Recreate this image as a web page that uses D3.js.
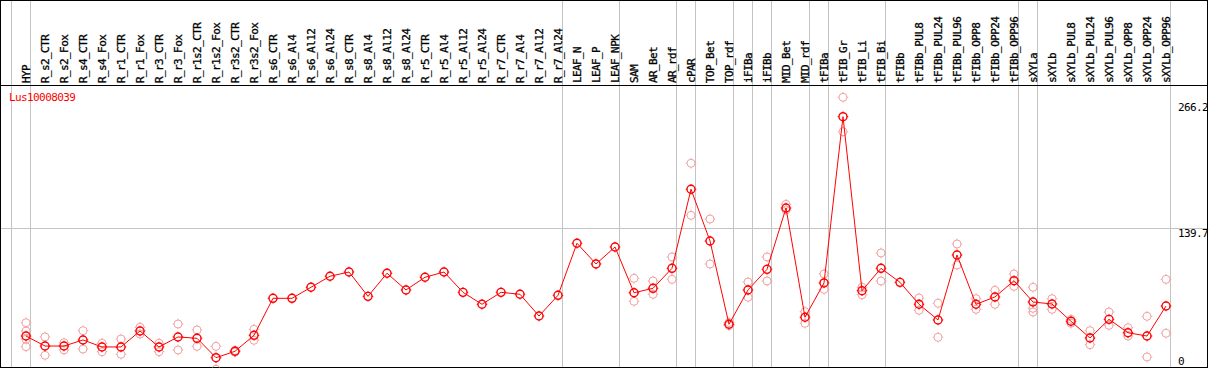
<!DOCTYPE html>
<html>
<head>
<meta charset="utf-8">
<script src="https://cdn.jsdelivr.net/npm/d3@7"></script>
<style>
  html, body { margin: 0; padding: 0; background: #fff; }
  svg { display: block; }
  text { font-family: "DejaVu Sans Mono", "Liberation Mono", monospace; font-size: 11px; letter-spacing: -0.6px; }
  text.lab { stroke: #000; stroke-width: 0.3px; }
</style>
</head>
<body>
<svg id="chart" width="1209" height="370"></svg>
<script>
const gene = "Lus10008039";

const categories = ["HYP","R_s2_CTR","R_s2_Fox","R_s4_CTR","R_s4_Fox","R_r1_CTR","R_r1_Fox","R_r3_CTR","R_r3_Fox",
  "R_r1s2_CTR","R_r1s2_Fox","R_r3s2_CTR","R_r3s2_Fox","R_s6_CTR","R_s6_Al4","R_s6_Al12","R_s6_Al24",
  "R_s8_CTR","R_s8_Al4","R_s8_Al12","R_s8_Al24","R_r5_CTR","R_r5_Al4","R_r5_Al12","R_r5_Al24",
  "R_r7_CTR","R_r7_Al4","R_r7_Al12","R_r7_Al24","LEAF_N","LEAF_P","LEAF_NPK","SAM","AR_Bet","AR_rdf",
  "cPAR","TOP_Bet","TOP_rdf","iFIBa","iFIBb","MID_Bet","MID_rdf","tFIBa","tFIB_Gr","tFIB_Li","tFIB_Bi",
  "tFIBb","tFIBb_PUL8","tFIBb_PUL24","tFIBb_PUL96","tFIBb_OPP8","tFIBb_OPP24","tFIBb_OPP96",
  "sXYLa","sXYLb","sXYLb_PUL8","sXYLb_PUL24","sXYLb_PUL96","sXYLb_OPP8","sXYLb_OPP24","sXYLb_OPP96"];

// mean expression per sample
const means = [34.6,24.9,24.9,30.8,24.0,24.0,39.5,24.0,33.7,
  32.4,13.6,19.8,35.3,71.2,71.2,81.9,92.6,
  96.7,73.1,95.5,79.3,91.6,96.7,77.0,65.4,
  77.0,75.1,54.0,74.1,124.6,104.5,121.0,76.6,80.9,100.3,
  177.0,126.8,46.0,79.3,99.3,158.8,52.8,86.1,247.4,78.6,100.3,
  86.7,65.4,50.2,113.2,65.4,72.5,88.3,
  67.6,65.7,48.9,32.7,50.8,37.8,34.6,63.7];

// individual replicate values per sample
const replicates = [[47.5,39.5,31.6,24.3],[33.7,15.9],[28.1,21.1],[39.8,22.0],[27.6,19.4],[31.7,16.9],[43.1,36.6],[27.6,19.4],[46.3,21.1],
  [40.5,24.6],[24.6,2.3],[19.1,20.6],[41.1,30.5],[],[],[],[],
  [],[],[],[],[],[],[],[],
  [],[],[],[],[],[],[],[90.6,68.3],[88.0,75.1],[111.3,89.6],
  [202.2,151.7],[148.1,104.5],[47.7,44.8],[87.0,72.2],[111.3,88.0],[162.4,156.9],[58.2,47.0],[94.8,79.9],[266.2,232.8],[81.9,74.7],[115.2,88.0],
  [],[71.5,59.6],[66.4,33.4],[123.9,103.5],[70.8,60.5],[79.0,65.4],[94.8,82.8],
  [81.9,61.5,57.9],[70.8,60.5],[50.8,47.0],[39.8,26.2],[57.9,45.0],[42.7,34.6],[53.7,14.3],[89.6,37.3]];

// indices after which a group separator is drawn (-1 = before first)
const groupEnds = [-1,0,28,31,34,35,37,38,39,41,42,45,52,53,60];

const yTicks = [0, 139.7, 266.2];
const gridValues = [139.7];

const W = 1209, H = 370;
const headerY = 85.5, bottomY = 367.5, rightX = 1207.5;

const svg = d3.select("#chart");
svg.append("rect").attr("width", W).attr("height", H).attr("fill", "#fff");

const x = d3.scalePoint().domain(categories).range([26, 26 + 19 * (categories.length - 1)]);
const step = x.step();
const y = d3.scaleLinear().domain([0, 266.2]).range([371.7, 97.3]);

svg.append("clipPath").attr("id", "plotclip")
  .append("rect").attr("x", 1).attr("y", headerY + 0.5).attr("width", rightX - 1).attr("height", bottomY - headerY - 0.5);

// group separators
svg.append("g").selectAll("line").data(groupEnds).join("line")
  .attr("x1", d => Math.round(x(categories[0]) + d * step) + 4.5)
  .attr("x2", d => Math.round(x(categories[0]) + d * step) + 4.5)
  .attr("y1", 0).attr("y2", bottomY)
  .attr("stroke", "#c4c4c4").attr("stroke-width", 1);

// horizontal grid
svg.append("g").selectAll("line").data(gridValues).join("line")
  .attr("x1", 1).attr("x2", rightX)
  .attr("y1", d => Math.round(y(d)) + 0.5).attr("y2", d => Math.round(y(d)) + 0.5)
  .attr("stroke", "#c4c4c4").attr("stroke-width", 1);

// frame
svg.append("rect").attr("x", 0.5).attr("y", 0.5).attr("width", rightX - 0.5).attr("height", bottomY - 0.5)
  .attr("fill", "none").attr("stroke", "#000").attr("stroke-width", 1);
svg.append("line").attr("x1", 0).attr("x2", rightX).attr("y1", headerY).attr("y2", headerY)
  .attr("stroke", "#000").attr("stroke-width", 1);

// category labels
svg.append("g").selectAll("text").data(categories).join("text")
  .attr("class", "lab")
  .attr("transform", d => `translate(${x(d)},83) rotate(-90)`)
  .attr("dy", "0.33em")
  .attr("text-anchor", "start")
  .attr("fill", "#000")
  .text(d => d);

// title
svg.append("text").attr("x", 9).attr("y", 101).attr("fill", "#ff0000").text(gene);

// y labels
const yLabelY = v => v === 0 ? 365 : (v === 266.2 ? 111 : Math.round(y(v)) + 9);
svg.append("g").selectAll("text").data(yTicks).join("text")
  .attr("x", 1178).attr("y", d => yLabelY(d)).attr("fill", "#000")
  .text(d => d === 0 ? "0" : d3.format(".1f")(d));

const plot = svg.append("g").attr("clip-path", "url(#plotclip)");

function marker(g, color, sw) {
  g.append("circle").attr("r", 4).attr("fill", "none").attr("stroke", color).attr("stroke-width", sw);
  g.append("path").attr("d", "M0,-4V-5.3M0,4V5.3M-4,0H-5.3M4,0H5.3")
    .attr("stroke", color).attr("stroke-width", 1).attr("fill", "none");
}

// replicate points
const repData = [];
replicates.forEach((arr, i) => arr.forEach(v => repData.push({c: categories[i], v})));
plot.append("g").selectAll("g").data(repData).join("g")
  .attr("transform", d => `translate(${x(d.c)},${y(d.v)})`)
  .each(function() { marker(d3.select(this), "#f2a2a2", 1); });

// mean line
plot.append("path")
  .datum(means)
  .attr("fill", "none").attr("stroke", "#ff0000").attr("stroke-width", 1)
  .attr("d", d3.line().x((d, i) => x(categories[i])).y(d => y(d)));

// mean markers
plot.append("g").selectAll("g").data(means).join("g")
  .attr("transform", (d, i) => `translate(${x(categories[i])},${y(d)})`)
  .each(function() { marker(d3.select(this), "#ff0000", 1.4); });
</script>
</body>
</html>
